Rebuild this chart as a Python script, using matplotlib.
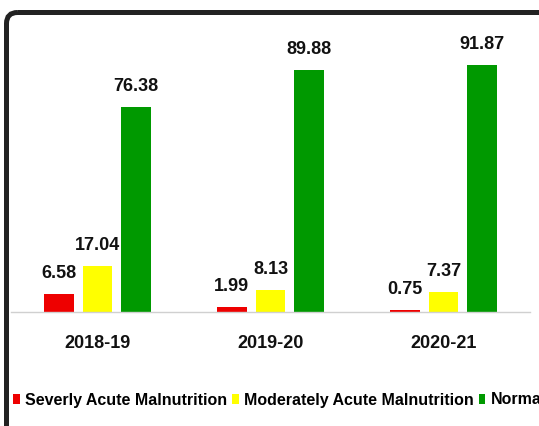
import numpy as np
import matplotlib
matplotlib.use("Agg")
import matplotlib.pyplot as plt
from matplotlib.patches import FancyBboxPatch, Patch

years = ["2018-19", "2019-20", "2020-21"]
severe = [6.58, 1.99, 0.75]
moderate = [17.04, 8.13, 7.37]
normal = [76.38, 89.88, 91.87]
series_names = ["Severly Acute Malnutrition", "Moderately Acute Malnutrition", "Normal"]
colors = ["#ee0000", "#ffff00", "#009900"]

plt.rcParams["font.family"] = ["Liberation Sans", "DejaVu Sans"]
plt.rcParams["font.weight"] = "bold"

W, H = 539, 426
fig = plt.figure(figsize=(W / 100, H / 100), dpi=100)

# rounded frame drawn in pixel units on a background axes
bg = fig.add_axes([0, 0, 1, 1], zorder=0)
bg.set_xlim(0, W)
bg.set_ylim(H, 0)
bg.axis("off")
frame = FancyBboxPatch((6.5, 12.5), 640, 428, boxstyle="round,pad=0,rounding_size=11",
                       fill=False, ec="#222222", lw=3.6, clip_on=False)
bg.add_patch(frame)

# main chart: baseline at 312 px, 2.69 px per unit
scale = 2.69
ymax = 105
ax_h = ymax * scale
ax = fig.add_axes([11 / W, (H - 312) / H, 519 / W, ax_h / H], zorder=1)
ax.patch.set_alpha(0)

x = np.arange(len(years))
width = 0.173
step = 0.223
for i, (vals, col) in enumerate(zip([severe, moderate, normal], colors)):
    xs = x + (i - 1) * step
    ax.bar(xs, vals, width=width, color=col, zorder=2)
    for xi, v in zip(xs, vals):
        ax.annotate(f"{v:.2f}", (xi, v), xytext=(0, 11.5), textcoords="offset points",
                    ha="center", va="baseline", fontsize=13, fontweight="bold", color="#111111")

for xi, lab in zip(x, years):
    ax.annotate(lab, (xi, 0), xytext=(0, -26), textcoords="offset points",
                ha="center", va="baseline", fontsize=13, fontweight="bold", color="#111111")

ax.set_xlim(-0.5, 2.5)
ax.set_ylim(0, ymax)
ax.set_xticks([])
ax.set_yticks([])
for s in ["top", "right", "left"]:
    ax.spines[s].set_visible(False)
ax.spines["bottom"].set_color("#d0d0d0")
ax.spines["bottom"].set_linewidth(1)

handles = [Patch(facecolor=c, edgecolor="none") for c in colors]
fig.legend(handles, series_names, loc="center left", bbox_to_anchor=(13 / W, (H - 400) / H),
           ncol=3, frameon=False, borderpad=0, borderaxespad=0,
           handlelength=0.41, handleheight=0.56, handletextpad=0.34, columnspacing=0.31,
           prop={"size": 11.5, "weight": "bold"})

fig.savefig("out.png", dpi=100)
